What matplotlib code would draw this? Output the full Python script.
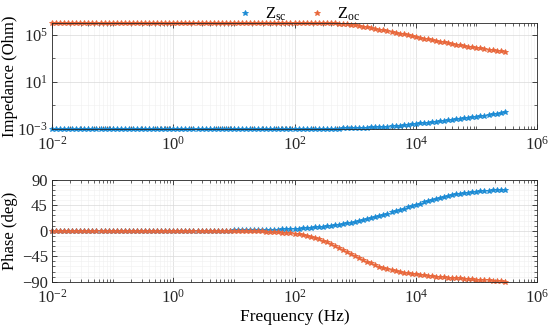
import numpy as np
import matplotlib
matplotlib.use("Agg")
import matplotlib.pyplot as plt
from matplotlib.ticker import FixedLocator, LogLocator, MultipleLocator, NullFormatter

plt.rcParams['font.family'] = ['Liberation Serif', 'DejaVu Serif']
plt.rcParams['mathtext.fontset'] = 'custom'
plt.rcParams['mathtext.rm'] = 'Liberation Serif'
plt.rcParams['mathtext.it'] = 'Liberation Serif:italic'
plt.rcParams['mathtext.bf'] = 'Liberation Serif:bold'
plt.rcParams['axes.unicode_minus'] = True

# frequency sweep: 15 points per decade from 1e-2 Hz to ~3e5 Hz
freq = np.logspace(-2, -2 + 112 / 15, 113)

# flat low-frequency part (first 45 points, 1e-2 .. ~7 Hz)
zsc_log10_low = [-3.0] * 45
zoc_log10_low = [6.0] * 45
ph_sc_low = [0.0] * 30 + [0.1, 0.1, 0.1, 0.1, 0.15, 0.15, 0.15, 0.2, 0.2, 0.2, 0.25, 0.25, 0.3, 0.3, 0.35]
ph_oc_low = [0.0] * 30 + [-0.1, -0.1, -0.1, -0.1, -0.15, -0.15, -0.15, -0.2, -0.2, -0.2, -0.25, -0.25, -0.3, -0.3, -0.35]

# 10 Hz .. 3e5 Hz (68 points)
zsc_log10_high = [-3.0, -3.0, -3.0, -3.0, -3.0, -3.0, -3.0, -3.0, -3.0, -3.0,
                  -3.0, -3.0, -3.0, -3.0, -3.0, -3.0, -3.0, -3.0, -2.995, -2.99,
                  -2.99, -2.985, -2.98, -2.975, -2.97, -2.965, -2.96, -2.955, -2.95, -2.94,
                  -2.93, -2.92, -2.91, -2.89, -2.87, -2.85, -2.83, -2.81, -2.79, -2.77,
                  -2.74, -2.72, -2.69, -2.65, -2.61, -2.57, -2.53, -2.49, -2.45, -2.41,
                  -2.37, -2.33, -2.29, -2.25, -2.21, -2.17, -2.13, -2.09, -2.05, -2.00,
                  -1.96, -1.91, -1.86, -1.81, -1.75, -1.70, -1.63, -1.55]
zoc_log10_high = [6.0] * 23 + [5.99, 5.98, 5.97, 5.95, 5.92, 5.88, 5.84,
                  5.80, 5.75, 5.70, 5.64, 5.58, 5.51, 5.44, 5.38, 5.31, 5.24,
                  5.17, 5.10, 5.03, 4.96, 4.89, 4.82, 4.75, 4.68, 4.61, 4.55,
                  4.48, 4.41, 4.35, 4.28, 4.22, 4.16, 4.10, 4.04, 3.99, 3.94,
                  3.89, 3.84, 3.79, 3.74, 3.69, 3.64, 3.59, 3.54]
ph_sc_high = [0.4, 0.5, 0.5, 0.6, 0.7, 0.8, 0.9, 1.0, 1.2, 1.4,
              1.6, 1.9, 2.2, 2.5, 2.9, 3.3, 3.7, 4.2, 4.7, 5.2,
              5.8, 6.4, 7.1, 7.9, 8.8, 9.8, 10.8, 11.9, 13.1, 14.4,
              15.8, 17.3, 18.9, 20.6, 22.4, 24.2, 26.1, 28.1, 30.2, 32.3,
              34.5, 36.7, 38.9, 41.1, 43.3, 45.5, 47.7, 49.9, 52.0, 54.0,
              55.9, 57.7, 59.4, 61.0, 62.5, 63.9, 65.1, 66.2, 67.2, 68.1,
              68.9, 69.6, 70.2, 70.7, 71.1, 71.4, 71.6, 71.8]
ph_oc_high = [-0.4, -0.5, -0.6, -0.7, -0.8, -1.0, -1.2, -1.4, -1.7, -2.0,
              -2.4, -2.8, -3.3, -3.9, -4.6, -5.5, -6.6, -7.9, -9.4, -11.1,
              -13.0, -15.2, -17.6, -20.2, -23.0, -26.2, -29.8, -33.5, -37.2, -41.0,
              -44.6, -48.2, -51.6, -54.8, -57.8, -60.6, -63.2, -65.6, -67.8, -69.7,
              -71.4, -72.9, -74.2, -75.3, -76.3, -77.2, -78.0, -78.8, -79.5, -80.2,
              -80.9, -81.6, -82.2, -82.8, -83.3, -83.8, -84.3, -84.8, -85.3, -85.8,
              -86.3, -86.8, -87.3, -87.8, -88.3, -88.8, -89.3, -89.8]

zsc = 10 ** np.array(zsc_log10_low + zsc_log10_high)
zoc = 10 ** np.array(zoc_log10_low + zoc_log10_high)
ph_sc = np.array(ph_sc_low + ph_sc_high)
ph_oc = np.array(ph_oc_low + ph_oc_high)

labels = [r'$\mathregular{Z_{sc}}$', r'$\mathregular{Z_{oc}}$']
c_sc = '#1a8ad4'
c_oc = '#e8663a'

fig = plt.figure(figsize=(5.5, 3.33), dpi=100)
ax1 = fig.add_axes([52 / 550, 1 - 129 / 333, 485 / 550, 106 / 333])
ax2 = fig.add_axes([52 / 550, 1 - 281.7 / 333, 485 / 550, 102 / 333])

mk = dict(marker='*', linestyle='none', markersize=4.0, markeredgewidth=0.6, clip_on=False)
ax1.loglog(freq, zsc, color=c_sc, label=labels[0], **mk)
ax1.loglog(freq, zoc, color=c_oc, label=labels[1], **mk)
ax2.semilogx(freq, ph_sc, color=c_sc, **mk)
ax2.semilogx(freq, ph_oc, color=c_oc, **mk)

for ax in (ax1, ax2):
    ax.set_xlim(1e-2, 1e6)
    ax.xaxis.set_major_locator(FixedLocator([1e-2, 1e0, 1e2, 1e4, 1e6]))
    ax.xaxis.set_minor_locator(LogLocator(base=10, subs=np.arange(1, 10), numticks=100))
    ax.xaxis.set_minor_formatter(NullFormatter())
    ax.tick_params(which='both', direction='in', top=True, right=True, labelsize=12, colors='#262626')
    ax.tick_params(which='major', length=3.5, width=0.6)
    ax.tick_params(which='minor', length=2, width=0.5)
    ax.tick_params(axis='x', which='major', pad=5)
    ax.tick_params(axis='y', which='major', pad=3)
    ax.grid(True, which='major', color='#d9d9d9', linewidth=0.5)
    ax.grid(True, which='minor', color='#efefef', linewidth=0.4)
    ax.set_axisbelow(True)
    for s in ax.spines.values():
        s.set_color('#262626')
        s.set_linewidth(0.6)

ax1.set_ylim(1e-3, 1e6)
ax1.yaxis.set_major_locator(FixedLocator([1e-3, 1e1, 1e5]))
ax1.yaxis.set_minor_locator(FixedLocator([1e-1, 1e3]))
ax1.yaxis.set_minor_formatter(NullFormatter())
ax1.set_ylabel('Impedance (Ohm)', fontsize=12)
ax1.yaxis.set_label_coords(-0.071, 0.5)

ax2.set_ylim(-90, 90)
ax2.yaxis.set_major_locator(FixedLocator([-90, -45, 0, 45, 90]))
ax2.yaxis.set_minor_locator(MultipleLocator(9))
ax2.set_ylabel('Phase (deg)', fontsize=12)
ax2.yaxis.set_label_coords(-0.071, 0.5)
ax2.set_xlabel('Frequency (Hz)', fontsize=12.5, labelpad=2)

ax1.legend(loc='lower center', bbox_to_anchor=(0.5, 0.98), ncol=2, frameon=False,
           fontsize=12, handletextpad=0.2, columnspacing=0.8, markerscale=1.0,
           borderaxespad=0, borderpad=0.1)

fig.savefig('out.png', dpi=100)
